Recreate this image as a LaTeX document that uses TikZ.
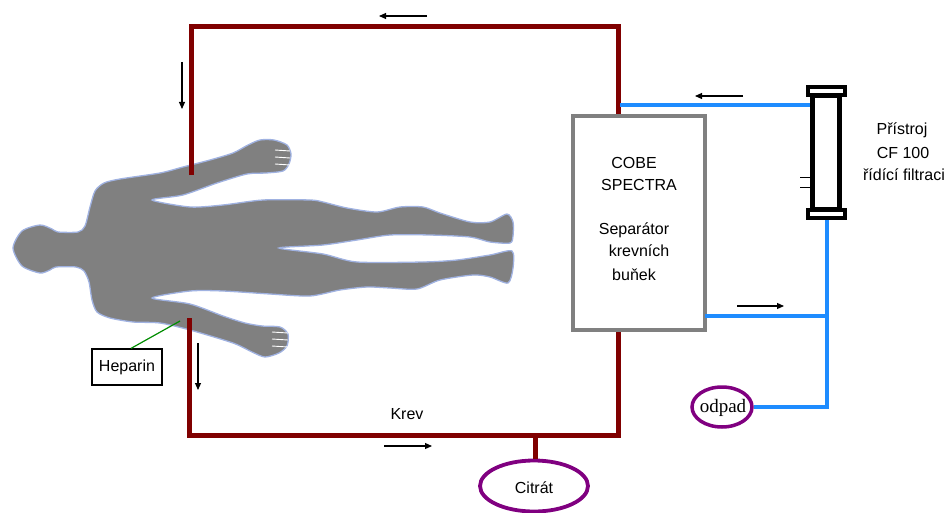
\documentclass[tikz,border=0pt]{standalone}
\usepackage{fontspec}
\setmainfont{Liberation Sans}
\newfontfamily\serifface{Liberation Serif}
\usetikzlibrary{arrows.meta,shapes.geometric}

\definecolor{blood}{RGB}{128,0,0}
\definecolor{fluid}{RGB}{30,140,255}
\definecolor{waste}{RGB}{128,0,128}
\definecolor{bodyfill}{RGB}{128,128,128}
\definecolor{bodyedge}{RGB}{160,178,225}
\definecolor{hepline}{RGB}{0,140,0}

\tikzset{
  lbl/.style={font=\fontsize{16}{19}\selectfont, inner sep=0pt, anchor=base},
  bloodline/.style={draw=blood, line width=5pt, line join=miter},
  fluidline/.style={draw=fluid, line width=4pt},
  flow/.style={line width=1.1pt, -{Triangle[length=7pt,width=6pt]}},
  bag/.style={ellipse, draw=waste, line width=3.8pt, fill=white, inner sep=0pt},
}

\begin{document}
\begin{tikzpicture}[x=1pt,y=-1pt]
\useasboundingbox (0,0) rectangle (949,513);

% patient silhouette, lying with head to the left
\fill[bodyfill, draw=bodyedge, line width=1.3pt]
  plot[smooth cycle, tension=0.45] coordinates {
    (13,248) (22,231) (40,225) (52,229) (58,232) (78,232) (85,226)
    (90,207) (95,191) (104,183) (120,179) (160,173) (183,167) (210,160)
    (233,153) (248,145) (260,140) (274,140) (287,145) (291,154) (289,164)
    (283,171) (266,173) (247,174) (217,183) (183,195) (152,200)
    (190,207) (223,205) (263,200) (310,200) (323,202) (347,208) (377,212)
    (400,207) (423,207) (440,213) (470,222) (490,222) (507,214) (513,222)
    (513,236) (510,243) (490,242) (470,237) (430,235) (390,235) (357,240)
    (323,245) (279,248) (323,254) (357,262) (423,262) (457,260) (490,255)
    (512,251) (513,268) (508,283) (490,277) (473,275) (440,280) (417,289)
    (390,288) (367,287) (340,290) (310,296) (270,294) (223,291) (190,291)
    (152,298) (190,304) (223,316) (245,323) (262,326) (280,327) (288,334)
    (287,346) (279,353) (265,357) (252,352) (233,343) (190,330) (160,323)
    (133,322) (110,318) (97,312) (92,300) (89,282) (84,271) (76,267)
    (56,267) (50,270) (40,273) (22,266)
  };
% finger gaps
\foreach \yy in {150,157,164} \draw[white, line width=0.9pt] (275,\yy) -- (290,\yy+1);
\foreach \yy in {333,340,347} \draw[white, line width=0.9pt] (272,\yy-1) -- (288,\yy);

% cell separator
\node[draw=bodyfill, line width=4pt, fill=white, minimum width=132pt,
      minimum height=214pt, inner sep=0pt] (cobe) at (639,223) {};
\node[lbl] (t1) at (634,168) {COBE};
\node[lbl] (t2) at (639,190) {SPECTRA};
\node[lbl] (t3) at (634,234) {Separátor};
\node[lbl] (t4) at (639,256) {krevních};
\node[lbl] (t5) at (634,280) {buňek};

% blood circuit corners
\coordinate (veinA) at (191,175);
\coordinate (cTL) at (191,27);
\coordinate (cTR) at (618,27);
\coordinate (veinB) at (189,318);
\coordinate (cBL) at (189,435);
\coordinate (cBR) at (618,435);
\coordinate (citTap) at (535,435);

\draw[bloodline] (veinA) -- (cTL) -- (cTR) -- (cTR |- cobe.north);
\draw[bloodline] (cBR |- cobe.south) -- (cBR) -- (cBL) -- (veinB);

% citrate bag
\node[bag, minimum width=108pt, minimum height=51pt] (citrat) at (534,486) {};
\node[lbl] (citlbl) at (534,493) {Citrát};
\draw[bloodline] (citTap) -- (citTap |- citrat.north);

% filtration unit CF 100
\draw[line width=5pt, fill=white] (812.5,96) rectangle (839.5,209);
\draw[line width=4pt, fill=white] (808,87) rectangle (845,95);
\draw[line width=4pt, fill=white] (808,210) rectangle (845,218);
\coordinate (tk1) at (810,177);
\coordinate (tk2) at (810,187);
\draw[line width=1pt] (tk1) -- ++(-10,0) (tk2) -- ++(-10,0);
\node[lbl] (p1) at (902,135) {Přístroj};
\node[lbl] (p2) at (903,158) {CF 100};
\node[lbl] (p3) at (904,180) {řídící filtraci};

% fluid lines
\coordinate (fIn) at (810,105);
\coordinate (bRet) at (620,105);
\coordinate (fOut) at (827,220);
\coordinate (junc) at (827,316);
\coordinate (wasteC) at (827,407);
\node[bag, line width=3.5pt, minimum width=60pt, minimum height=40pt] (odpad) at (722,407) {};
\node[font=\serifface\fontsize{19}{22}\selectfont, inner sep=0pt, anchor=base] (odlbl) at (723,412) {odpad};
\draw[fluidline] (bRet) -- (fIn);
\draw[fluidline] (fOut) -- (junc) -- (wasteC) -- (odpad.east);
\draw[fluidline] (cobe.east |- junc) ++(-2,0) -- (junc);

% heparin
\node[draw, line width=1.2pt, minimum width=70pt, minimum height=36pt, inner sep=0pt,
      font=\fontsize{16}{19}\selectfont] (hep) at (127,367) {Heparin};
\coordinate (hepIn) at (180,321);
\draw[hepline, line width=1.2pt] ([xshift=4pt]hep.north) -- (hepIn);

\node[lbl] (krev) at (407,419) {Krev};

% flow direction arrows
\coordinate (a1s) at (427,16);  \coordinate (a1e) at (379,16);
\coordinate (a2s) at (182,62);  \coordinate (a2e) at (182,109);
\coordinate (a3s) at (198,343); \coordinate (a3e) at (198,390);
\coordinate (a4s) at (384,446); \coordinate (a4e) at (432,446);
\coordinate (a5s) at (743,96);  \coordinate (a5e) at (695,96);
\coordinate (a6s) at (737,306); \coordinate (a6e) at (784,306);
\foreach \n in {1,...,6} \draw[flow] (a\n s) -- (a\n e);
\end{tikzpicture}
\end{document}
